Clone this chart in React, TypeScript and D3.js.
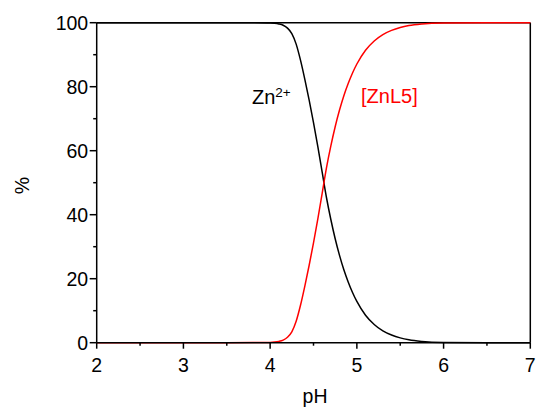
import React from "react";
import * as d3 from "d3";

const pH = [2, 3, 3.5, 3.8, 4.0, 4.05, 4.1, 4.15, 4.2, 4.25, 4.3, 4.35, 4.4, 4.45, 4.5, 4.55, 4.6, 4.65, 4.7, 4.75, 4.8, 4.85, 4.9, 4.95, 5.0, 5.1, 5.2, 5.3, 5.4, 5.5, 5.6, 5.75, 6, 6.5, 7];
const zn = [100, 100, 100, 99.97, 99.9, 99.8, 99.6, 99.2, 98.3, 96.6, 93.3, 88.3, 82.3, 75.8, 68.8, 61.3, 53.3, 45.3, 38.5, 32.5, 27.3, 22.8, 19, 15.7, 12.9, 8.6, 5.7, 3.7, 2.4, 1.5, 0.9, 0.4, 0.08, 0, 0];
const znl5 = [0, 0, 0, 0.03, 0.1, 0.2, 0.4, 0.8, 1.7, 3.4, 6.7, 11.7, 17.7, 24.2, 31.2, 38.7, 46.7, 54.7, 61.5, 67.5, 72.7, 77.2, 81, 84.3, 87.1, 91.4, 94.3, 96.3, 97.6, 98.5, 99.1, 99.6, 99.92, 100, 100];
const xMajor = [2, 3, 4, 5, 6, 7];
const xMinor = [2.5, 3.5, 4.5, 5.5, 6.5];
const yMajor = [0, 20, 40, 60, 80, 100];
const yMinor = [10, 30, 50, 70, 90];

const W = 539, H = 410;
const left = 96.7, right = 530.3, top = 22.7, bottom = 342.7;
const font = "'Liberation Sans', Arial, sans-serif";

export default function App() {
  const x = d3.scaleLinear().domain([2, 7]).range([left, right]);
  const y = d3.scaleLinear().domain([0, 100]).range([bottom, top]);
  const line = (vals: number[]) =>
    d3.line<number>().x((_, i) => x(pH[i])).y((v) => y(v)).curve(d3.curveMonotoneX)(vals) || "";

  return (
    <svg width={W} height={H} style={{ position: "absolute", left: 0, top: 0, background: "#fff" }}>
      <g fill="none" stroke="#000" strokeWidth={1.5}>
        <line x1={left} x2={right} y1={top} y2={top} />
        <line x1={right} x2={right} y1={top} y2={bottom} />
      </g>
      <path d={line(zn)} fill="none" stroke="#000" strokeWidth={1.5} />
      <path d={line(znl5)} fill="none" stroke="#ff0000" strokeWidth={1.5} />
      <g stroke="#000" strokeWidth={1.5}>
        <line x1={left} x2={right} y1={bottom} y2={bottom} />
        <line x1={left} x2={left} y1={top} y2={bottom} />
        {xMajor.map((t) => (
          <line key={"xM" + t} x1={x(t)} x2={x(t)} y1={bottom} y2={bottom + 6} />
        ))}
        {xMinor.map((t) => (
          <line key={"xm" + t} x1={x(t)} x2={x(t)} y1={bottom} y2={bottom + 3} />
        ))}
        {yMajor.map((t) => (
          <line key={"yM" + t} x1={left - 7} x2={left} y1={y(t)} y2={y(t)} />
        ))}
        {yMinor.map((t) => (
          <line key={"ym" + t} x1={left - 3.5} x2={left} y1={y(t)} y2={y(t)} />
        ))}
      </g>
      <g fontFamily={font} fontSize={19.5} fill="#000">
        {xMajor.map((t) => (
          <text key={"xl" + t} x={x(t)} y={bottom + 29} textAnchor="middle">{t}</text>
        ))}
        {yMajor.map((t) => (
          <text key={"yl" + t} x={left - 8.5} y={y(t) + 6.8} textAnchor="end">{t}</text>
        ))}
        <text x={(left + right) / 2 + 1.5} y={402.5} textAnchor="middle">pH</text>
        <text transform={`translate(29,${(top + bottom) / 2 + 3}) rotate(-90)`} textAnchor="middle">%</text>
      </g>
      <g fontFamily={font} fontSize={20} fill="#000">
        <text x={252} y={104.3}>
          Zn<tspan fontSize={13.5} dy={-7.5}>2+</tspan>
        </text>
        <text x={361} y={103.3} fill="#ff0000">[ZnL5]</text>
      </g>
    </svg>
  );
}
